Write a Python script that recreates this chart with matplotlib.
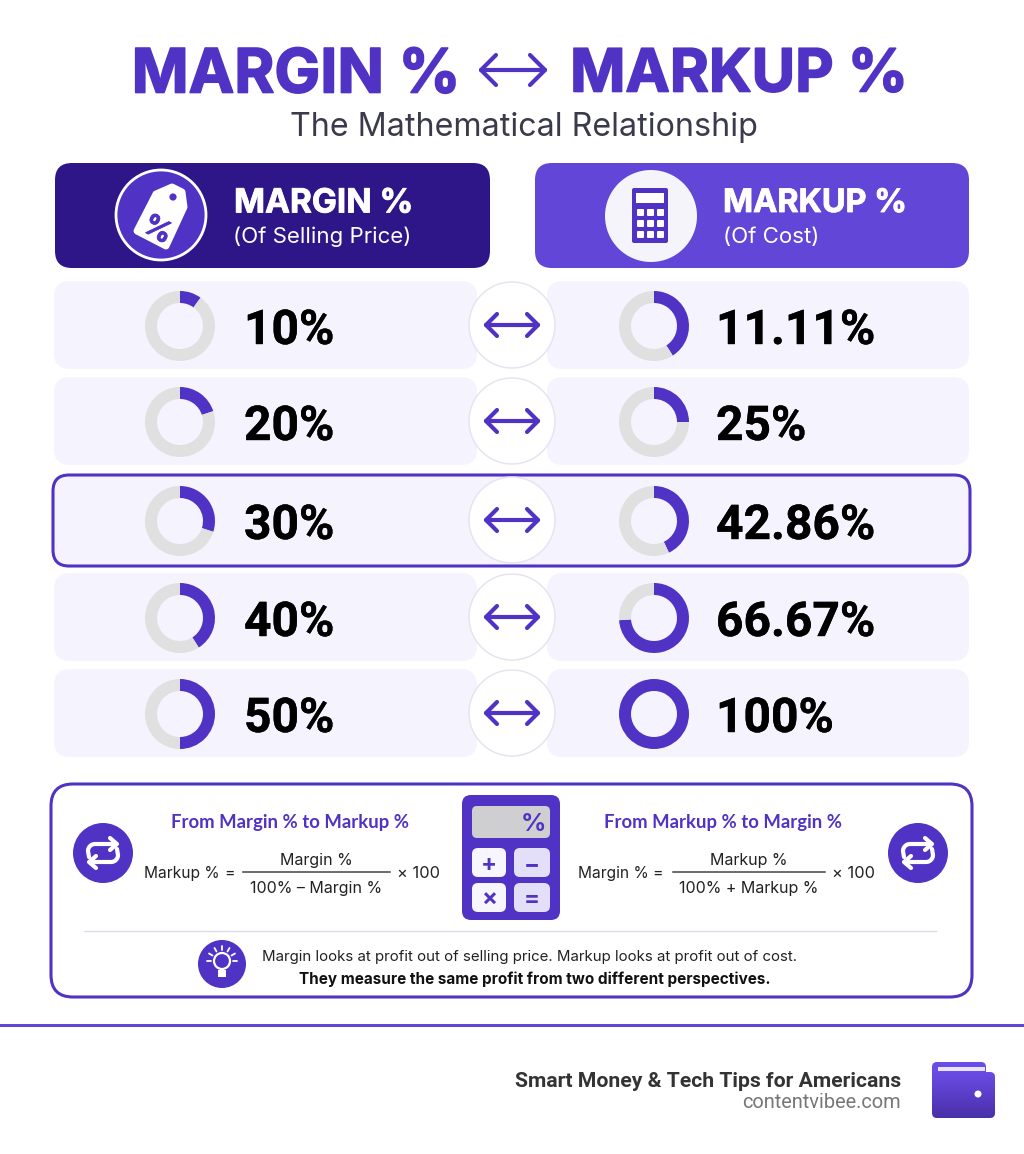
#!/usr/bin/env python3
"""Margin % vs markup % infographic, drawn on a pixel canvas."""

import numpy as np
import matplotlib
matplotlib.use('Agg')
import matplotlib.pyplot as plt
import matplotlib.patheffects as pe
from matplotlib.colors import LinearSegmentedColormap
from matplotlib.patches import Circle, FancyBboxPatch, Polygon, Rectangle

W, H = 1024, 1154
PURPLE = '#5033C4'
BRIGHT = '#6246D8'
NAVY = '#2E1689'
ROW_BG = '#F5F3FD'
RING = '#E0E0E0'
HEAD_FONT = 'Inter'
BODY_FONT = 'Inter'
ROW_FONT = 'Roboto'
SMALL_FONT = 'Lato'

# values as drawn in the picture
margin_labels = ['10%', '20%', '30%', '40%', '50%']
markup_labels = ['11.11%', '25%', '42.86%', '66.67%', '100%']
margin_arc = [10, 20, 30, 41, 50]
markup_arc = [41, 25, 43, 74, 100]
highlight_row = 2

row_centers = [325, 421, 520, 617, 713]

fig = plt.figure(figsize=(W / 100, H / 100), dpi=100, facecolor='white')
ax = fig.add_axes([0, 0, 1, 1])
ax.set_xlim(0, W)
ax.set_ylim(H, 0)
ax.axis('off')


def box(x0, y0, x1, y1, r, fc, ec='none', lw=0, z=1):
    patch = FancyBboxPatch((x0 + r, y0 + r), x1 - x0 - 2 * r, y1 - y0 - 2 * r,
                           boxstyle=f'round,pad={r},rounding_size={r}',
                           fc=fc, ec=ec, lw=lw, zorder=z)
    ax.add_patch(patch)
    return patch


def label(x, y, s, size, color='black', weight='normal', ha='center', font=BODY_FONT,
          heavy=0, **kw):
    t = ax.text(x, y, s, fontsize=size, color=color, fontweight=weight, ha=ha,
                va='center_baseline', family=font, zorder=6, **kw)
    if heavy:
        # the reference lettering is a bit heavier than any installed bold
        t.set_path_effects([pe.withStroke(linewidth=heavy, foreground=color)])
    return t


def stroke(xs, ys, color, lw, z=5):
    ax.plot(xs, ys, color=color, lw=lw, solid_capstyle='round',
            solid_joinstyle='round', zorder=z)


def double_arrow(x0, x1, y, head, color=PURPLE, lw=3):
    stroke([x0, x1], [y, y], color, lw)
    stroke([x0 + head, x0, x0 + head], [y - head, y, y + head], color, lw)
    stroke([x1 - head, x1, x1 - head], [y - head, y, y + head], color, lw)


def donut(cx, cy, value, r=35):
    inset = fig.add_axes([(cx - r) / W, 1 - (cy + r) / H, 2 * r / W, 2 * r / H])
    inset.pie([value, 100 - value], colors=[PURPLE, RING], startangle=90,
              counterclock=False, radius=1, wedgeprops=dict(width=12 / 35))
    inset.set_xlim(-1, 1)
    inset.set_ylim(-1, 1)
    inset.patch.set_alpha(0)


def swap_icon(cx, cy):
    ax.add_patch(Circle((cx, cy), 30, fc=PURPLE, ec='none', zorder=3))
    t = np.linspace(np.pi, 1.5 * np.pi, 12)
    xs = np.r_[-8 + 7 * np.cos(t), 13]
    ys = np.r_[-2 + 7 * np.sin(t), -9]
    stroke(cx + np.r_[xs[0] + 1, xs], cy + np.r_[4, ys], 'white', 3)
    stroke(cx + np.array([7, 14, 7]), cy + np.array([-15, -9, -3]), 'white', 3)
    stroke(cx - np.r_[xs[0] + 1, xs], cy - np.r_[4, ys], 'white', 3)
    stroke(cx - np.array([7, 14, 7]), cy - np.array([-15, -9, -3]), 'white', 3)


# title block
label(296, 70, 'MARGIN %', 44, PURPLE, 'bold', font=HEAD_FONT, heavy=1.2)
label(739, 70, 'MARKUP %', 42.8, PURPLE, 'bold', font=HEAD_FONT, heavy=1.2)
double_arrow(481, 545, 70, 15, PURPLE, 3)
label(524, 124, 'The Mathematical Relationship', 23.2, '#3A3A4A')

# column headers
box(55, 163, 490, 268, 17, NAVY)
box(535, 163, 969, 268, 17, BRIGHT)
ax.add_patch(Circle((161, 215), 45, fc=PURPLE, ec='white', lw=2, zorder=3))
tag = [(172, 187), (182, 192), (184, 207), (166, 246), (137, 231), (156, 194)]
ax.add_patch(Polygon(tag, closed=True, fc='white', ec='white', lw=5, joinstyle='round', zorder=4))
ax.add_patch(Circle((173, 197), 3.6, fc=PURPLE, zorder=5))
label(157, 222, '%', 21, PURPLE, 'bold', rotation=-30, heavy=0.6)
label(234, 200, 'MARGIN %', 24, 'white', 'bold', ha='left', font=HEAD_FONT, heavy=0.6)
label(233, 235, '(Of Selling Price)', 16, 'white', ha='left')

ax.add_patch(Circle((651, 216), 46, fc='#F5F4FA', ec='none', zorder=3))
box(632, 188, 668, 243, 2, PURPLE, z=4)
ax.add_patch(Rectangle((636, 193), 28, 10, fc='white', zorder=5))
for bx in (637, 647, 657):
    for by in (209, 220, 231):
        box(bx, by, bx + 7, by + 7, 1, 'white', z=5)
label(723, 200, 'MARKUP %', 23.3, 'white', 'bold', ha='left', font=HEAD_FONT, heavy=0.6)
label(723, 235, '(Of Cost)', 16, 'white', ha='left')

# comparison rows
for i, y in enumerate(row_centers):
    if i == highlight_row:
        box(53, y - 45, 970, y + 46, 16, ROW_BG, PURPLE, 2.2, z=1)
    else:
        box(54, y - 44, 477, y + 44, 16, ROW_BG)
        box(547, y - 44, 969, y + 44, 16, ROW_BG)
    ax.add_patch(Circle((512, y), 43, fc='white', ec='#E6E4F0', lw=1.1, zorder=3))
    double_arrow(486, 538, y, 11, PURPLE, 3)
    donut(180, y + 1, margin_arc[i])
    donut(654, y + 1, markup_arc[i])
    label(244, y + 1, margin_labels[i], 34.5, 'black', 'bold', ha='left', font=ROW_FONT, heavy=0.3)
    label(716, y + 1, markup_labels[i], 34.5, 'black', 'bold', ha='left', font=ROW_FONT, heavy=0.3)

# formula panel
box(51, 784, 972, 997, 22, 'white', PURPLE, 2.2)
swap_icon(103, 853)
swap_icon(918, 853)
label(290, 821, 'From Margin % to Markup %', 13.3, PURPLE, 'bold', font=SMALL_FONT)
label(723, 821, 'From Markup % to Margin %', 13.3, PURPLE, 'bold', font=SMALL_FONT)

label(144, 872, 'Markup %', 11.2, '#222222', ha='left')
label(229, 872, '=', 11.5, '#222222')
ax.plot([243, 390], [872, 872], color='#444444', lw=1.1, zorder=5)
label(316, 859, 'Margin %', 11.5, '#222222')
label(316, 887, '100% \u2013 Margin %', 11.5, '#222222')
label(397, 872, '\u00d7 100', 11.8, '#222222', ha='left')

label(578, 872, 'Margin %', 11.2, '#222222', ha='left')
label(657, 872, '=', 11.5, '#222222')
ax.plot([673, 825], [872, 872], color='#444444', lw=1.1, zorder=5)
label(749, 859, 'Markup %', 11.5, '#222222')
label(749, 887, '100% + Markup %', 11.5, '#222222')
label(832, 872, '\u00d7 100', 11.8, '#222222', ha='left')

# calculator
box(462, 795, 560, 920, 9, PURPLE, z=3)
box(472, 806, 550, 838, 5, '#CFCFD2', z=4)
label(533, 822, '%', 18, PURPLE, 'bold')
for x0, x1, y0, y1, sign, fc in [(472, 506, 848, 877, '+', '#F7F5FE'),
                                 (514, 550, 848, 877, '\u2212', '#E4DFF8'),
                                 (472, 506, 883, 912, '\u00d7', '#F7F5FE'),
                                 (514, 550, 883, 912, '=', '#E4DFF8')]:
    box(x0, y0, x1, y1, 6, fc, z=4)
    label((x0 + x1) / 2, (y0 + y1) / 2, sign, 17, PURPLE, 'bold')

# takeaway
ax.plot([84, 936], [931, 931], color='#DDDBE8', lw=1.0, zorder=2)
ax.add_patch(Circle((222, 964), 24, fc=PURPLE, ec='none', zorder=3))
ax.add_patch(Circle((222, 961), 8, fc='none', ec='white', lw=1.6, zorder=4))
ax.add_patch(Rectangle((218, 970), 8, 7, fc='white', ec='none', zorder=4))
for a in (-150, -120, -90, -60, -30, 0, 180):
    ca, sa = np.cos(np.radians(a)), np.sin(np.radians(a))
    stroke(222 + np.array([11, 15]) * ca, 961 + np.array([11, 15]) * sa, 'white', 1.3)
label(530, 956, 'Margin looks at profit out of selling price. Markup looks at profit out of cost.',
      10.8, '#222222')
label(535, 978, 'They measure the same profit from two different perspectives.', 11, '#111111', 'bold')

# footer
ax.add_patch(Rectangle((0, 1024), W, 3, fc=BRIGHT, ec='none', zorder=2))
label(901, 1079.5, 'Smart Money & Tech Tips for Americans', 15.25, '#333333', 'bold', ha='right', font='Roboto')
label(901, 1100.5, 'contentvibee.com', 14.4, '#777777', ha='right', font='Roboto')

box(932, 1062, 986, 1085, 5, '#6A4CE6', z=2)
ax.add_patch(Rectangle((938, 1067), 47, 3.5, fc='#E8E3FB', ec='none', zorder=3))
shape = box(932, 1072, 995, 1118, 5, 'none', z=4)
grad = np.linspace(0, 1, 64).reshape(-1, 1)
cmap = LinearSegmentedColormap.from_list('wallet', ['#6A4CE6', '#4A2FA8'])
img = ax.imshow(grad, extent=(932, 995, 1118, 1072), cmap=cmap, aspect='auto', zorder=3)
img.set_clip_path(shape)
ax.add_patch(Circle((978, 1094), 3.5, fc='white', zorder=5))
ax.set_xlim(0, W)
ax.set_ylim(H, 0)

fig.savefig('out.png', dpi=100, facecolor='white')
